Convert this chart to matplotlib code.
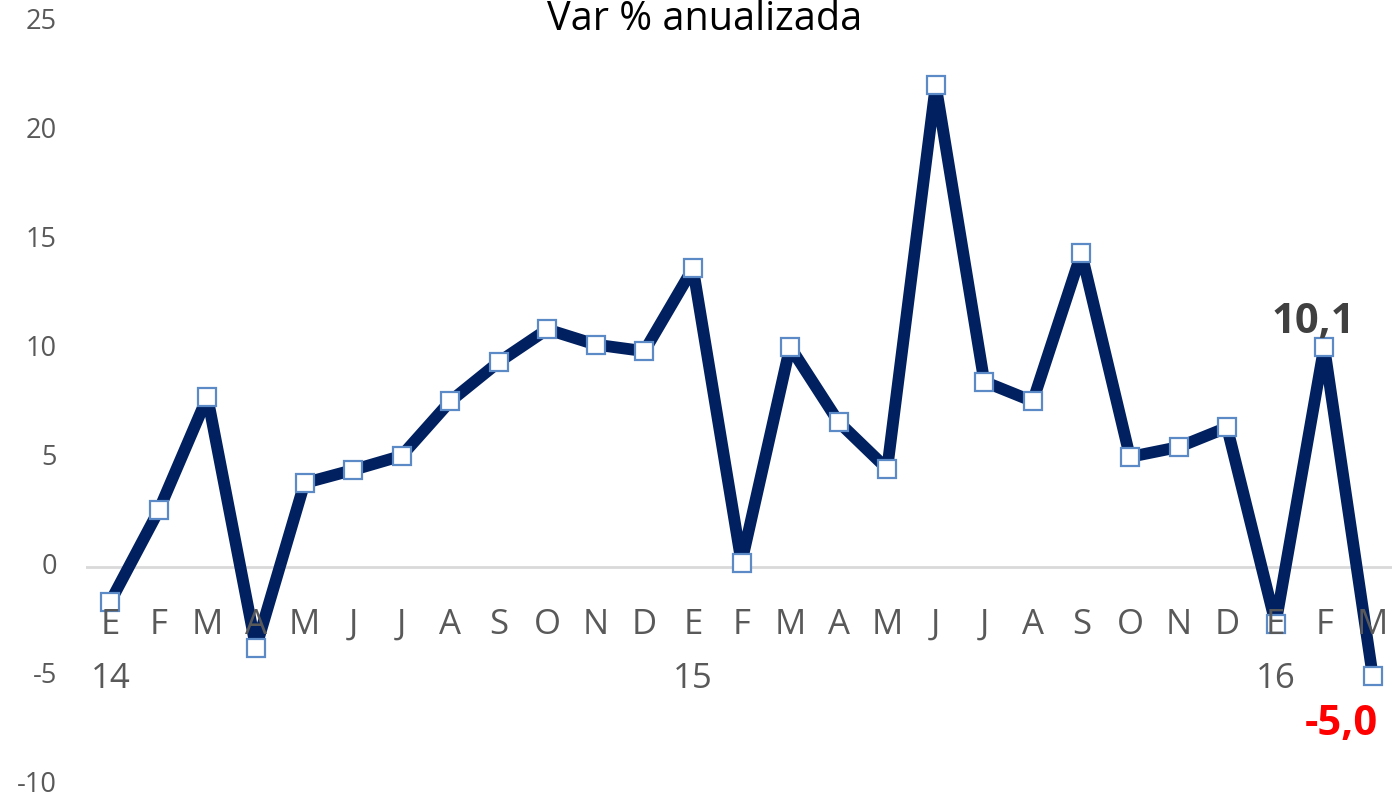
import matplotlib
matplotlib.use("Agg")
import matplotlib.pyplot as plt
from matplotlib.transforms import ScaledTranslation

months = ["E", "F", "M", "A", "M", "J", "J", "A", "S", "O", "N", "D",
          "E", "F", "M", "A", "M", "J", "J", "A", "S", "O", "N", "D",
          "E", "F", "M"]
values = [-1.6, 2.6, 7.8, -3.7, 3.85, 4.45, 5.1, 7.6, 9.4, 10.9, 10.2, 9.9,
          13.7, 0.2, 10.1, 6.65, 4.5, 22.1, 8.5, 7.6, 14.4, 5.05, 5.5, 6.4,
          -2.6, 10.1, -5.0]
years = ["14", "15", "16"]
year_pos = [0, 12, 24]
y_ticks = [-10, -5, 0, 5, 10, 15, 20, 25]

plt.rcParams['font.family'] = ['Open Sans', 'DejaVu Sans']

fig = plt.figure(figsize=(13.92, 7.99), dpi=100)
ax = fig.add_axes([86 / 1392, 1 - 785 / 799, (1397 - 86) / 1392, (785 - 22) / 799])
x = list(range(len(values)))

ax.axhline(0, color="#D9D9D9", lw=2, zorder=1)
ax.plot(x, values, color="#002060", lw=8.5, zorder=2, solid_joinstyle="round",
        marker="s", markersize=13.5, markerfacecolor="white",
        markeredgecolor="#5B8AC6", markeredgewidth=1.6)

ax.set_xlim(-0.5, 26.5)
ax.set_ylim(-10, 25)
ax.set_yticks(y_ticks)
ax.set_yticklabels([str(v) for v in y_ticks])
ax.tick_params(axis="y", length=0, pad=21, labelsize=19.5, labelcolor="#595959")
shift = ScaledTranslation(0, 2.5 / 72, fig.dpi_scale_trans)
for lab in ax.get_yticklabels():
    lab.set_transform(lab.get_transform() + shift)
ax.set_xticks([])
for s in ax.spines.values():
    s.set_visible(False)

for i, m in enumerate(months):
    ax.text(i, -3.07, m, ha="center", va="baseline", fontsize=25, color="#595959")
for p, yl in zip(year_pos, years):
    ax.text(p, -5.55, yl, ha="center", va="baseline", fontsize=25, color="#595959")

ax.text(24.78, 10.73, "10,1", ha="center", va="baseline",
        fontsize=30, fontweight="bold", color="#404040")
ax.text(25.36, -7.71, "-5,0", ha="center", va="baseline",
        fontsize=30, fontweight="bold", color="#FF0000")

fig.text(705 / 1392, 1 - 30 / 799, "Var % anualizada", ha="center", va="baseline",
         fontsize=28.5, color="black")

fig.savefig("out.png", dpi=100)
